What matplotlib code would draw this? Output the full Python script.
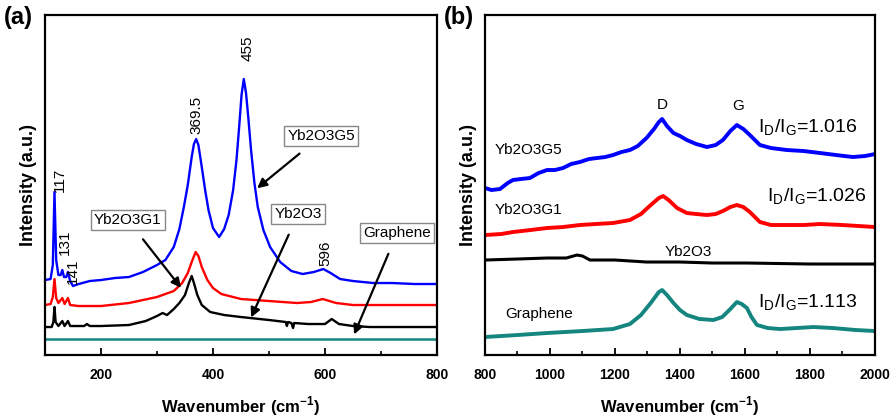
import matplotlib
matplotlib.use("Agg")
import matplotlib.pyplot as plt
from matplotlib.ticker import MultipleLocator

plt.rcParams['font.family'] = ['Liberation Sans', 'DejaVu Sans']
plt.rcParams['mathtext.fontset'] = 'custom'
plt.rcParams['mathtext.rm'] = 'Liberation Sans'
plt.rcParams['mathtext.bf'] = 'Liberation Sans:bold'

# ---- panel (a): low wavenumber spectra (arbitrary intensity, offset) ----
a_g5_x = [100, 110, 114, 117, 120, 124, 128, 131, 134, 138, 141, 145, 150, 160, 180, 200, 225, 250,
          275, 300, 315, 330, 340, 348, 355, 362, 366, 370, 374, 380, 386, 392, 400, 411, 420, 428,
          436, 442, 447, 451, 455, 459, 463, 468, 474, 480, 490, 502, 520, 540, 560, 580, 597, 610,
          627, 650, 686, 720, 760, 800]
a_g5_y = [75, 76, 90, 163, 95, 80, 80, 85, 78, 78, 83, 74, 69, 71, 74, 75, 77, 78,
          83, 90, 95, 108, 126, 148, 170, 198, 211, 216, 210, 188, 165, 145, 127, 118, 126, 140,
          165, 195, 230, 260, 276, 262, 238, 205, 172, 148, 125, 108, 93, 84, 81, 83, 86, 82,
          76, 74, 72, 72, 71, 71]

a_g1_x = [100, 110, 114, 117, 120, 124, 131, 135, 141, 145, 160, 200, 250, 300, 330, 345, 355, 362,
          369, 374, 380, 390, 400, 415, 450, 500, 550, 575, 596, 620, 650, 700, 800]
a_g1_y = [50, 51, 58, 76, 57, 52, 57, 51, 57, 50, 49, 49, 52, 58, 64, 72, 82, 93,
          103, 99, 88, 75, 67, 61, 56, 54, 52, 53, 56, 52, 50, 50, 50]

a_ox_x = [100, 112, 115, 117, 119, 124, 131, 135, 141, 145, 170, 175, 180, 200, 250, 280, 300, 310,
          318, 330, 340, 350, 357, 362, 366, 372, 380, 395, 420, 450, 500, 530, 532, 534, 540, 543,
          545, 570, 600, 612, 625, 650, 680, 800]
a_ox_y = [28, 28, 33, 48, 33, 29, 34, 29, 34, 29, 29, 31, 29, 29, 30, 34, 39, 42,
          40, 46, 52, 60, 72, 79, 72, 60, 50, 43, 40, 38, 35, 33, 29, 33, 32, 27,
          32, 31, 31, 36, 31, 29, 28, 28]

a_gr_x = [100, 200, 300, 400, 500, 600, 700, 800]
a_gr_y = [16, 16, 16, 16, 16, 16, 16, 16]

# ---- panel (b): D and G band region ----
b_g5_x = [800, 820, 846, 870, 886, 910, 938, 965, 991, 1015, 1040, 1065, 1092, 1120, 1145, 1170, 1194,
          1220, 1246, 1270, 1297, 1320, 1335, 1345, 1360, 1380, 1400, 1421, 1450, 1483, 1510, 1532,
          1555, 1575, 1595, 1615, 1646, 1680, 1729, 1780, 1831, 1880, 1932, 1970, 2000]
b_g5_y = [167, 165, 166, 172, 175, 176, 177, 182, 185, 185, 187, 191, 193, 196, 197, 198, 200,
          203, 205, 209, 217, 226, 233, 236, 229, 222, 219, 215, 211, 208, 210, 215,
          224, 230, 226, 220, 210, 207, 205, 204, 202, 200, 198, 199, 201]

b_g1_x = [800, 850, 886, 940, 991, 1040, 1092, 1140, 1194, 1246, 1280, 1310, 1335, 1348, 1365, 1391,
          1421, 1450, 1483, 1510, 1532, 1555, 1575, 1595, 1615, 1646, 1680, 1729, 1780, 1831, 1900,
          1950, 2000]
b_g1_y = [120, 121, 123, 125, 127, 128, 130, 131, 132, 135, 141, 150, 157, 159, 155, 147,
          142, 141, 140, 141, 144, 148, 150, 148, 143, 133, 130, 130, 130, 131, 130,
          129, 128]

b_ox_x = [800, 900, 991, 1050, 1083, 1100, 1123, 1200, 1297, 1400, 1500, 1606, 1800, 2000]
b_ox_y = [95, 96, 97, 97, 100, 99, 95, 95, 93, 93, 92, 92, 91, 91]

b_gr_x = [800, 900, 991, 1100, 1194, 1246, 1280, 1310, 1335, 1345, 1360, 1380, 1400, 1421, 1460,
          1503, 1530, 1555, 1575, 1590, 1606, 1620, 1637, 1670, 1708, 1760, 1811, 1870, 1940, 2000]
b_gr_y = [18, 20, 22, 24, 26, 31, 40, 52, 63, 65, 60, 52, 45, 40, 36,
          35, 38, 46, 53, 51, 47, 38, 30, 27, 26, 27, 28, 27, 25, 24]

blue = '#0000ff'
red = '#ff0000'
teal = '#14857f'

fig = plt.figure(figsize=(8.94, 4.16), dpi=100)
ax1 = fig.add_axes([0.0503, 0.1466, 0.4385, 0.8173])
ax2 = fig.add_axes([0.5425, 0.1466, 0.4362, 0.8173])

ax1.plot(a_gr_x, a_gr_y, color=teal, lw=1.8)
ax1.plot(a_ox_x, a_ox_y, color='black', lw=1.7)
ax1.plot(a_g1_x, a_g1_y, color=red, lw=1.7)
ax1.plot(a_g5_x, a_g5_y, color=blue, lw=1.7)

ax2.plot(b_gr_x, b_gr_y, color=teal, lw=2.8)
ax2.plot(b_ox_x, b_ox_y, color='black', lw=2.2)
ax2.plot(b_g1_x, b_g1_y, color=red, lw=2.8)
ax2.plot(b_g5_x, b_g5_y, color=blue, lw=2.8)

ax1.set_xlim(100, 800)
ax1.set_ylim(0, 340)
ax2.set_xlim(800, 2000)
ax2.set_ylim(0, 340)

ax1.xaxis.set_major_locator(MultipleLocator(200))
ax1.xaxis.set_minor_locator(MultipleLocator(100))
ax2.xaxis.set_major_locator(MultipleLocator(200))
ax2.xaxis.set_minor_locator(MultipleLocator(100))

for ax in (ax1, ax2):
    ax.set_yticks([])
    for s in ax.spines.values():
        s.set_linewidth(1.6)
    ax.tick_params(axis='x', which='major', direction='in', length=5, width=1.3,
                   labelsize=10, pad=9)
    ax.tick_params(axis='x', which='minor', direction='in', length=3, width=1.2)
    for lab in ax.get_xticklabels():
        lab.set_fontweight('bold')
    ax.set_xlabel('Wavenumber (cm$^{\\mathbf{-1}}$)', fontsize=12, fontweight='bold', labelpad=9)
    ax.set_ylabel('Intensity (a.u.)', fontsize=13, fontweight='bold', labelpad=6)

ax1.set_xticklabels(['', '200', '400', '600', '800'], fontweight='bold')

# peak position labels
for x, y, s in [(127, 175, '117'), (136, 113, '131'), (150, 84, '141'),
                (371, 240, '369.5'), (461, 307, '455'), (600, 102, '596')]:
    ax1.text(x, y, s, rotation=90, ha='center', va='center', fontsize=11)

box = dict(boxstyle='square,pad=0.2', fc='white', ec='#888888', lw=1)
arrow = dict(arrowstyle='-|>', color='black', lw=1.6, mutation_scale=14)
ax1.annotate('Yb2O3G5', xy=(475, 165), xytext=(593, 219), ha='center', va='center',
             fontsize=11, bbox=box, arrowprops=dict(arrow, shrinkA=8))
ax1.annotate('Yb2O3G1', xy=(346, 65), xytext=(248, 135), ha='center', va='center',
             fontsize=11, bbox=box, arrowprops=dict(arrow, shrinkA=8))
ax1.annotate('Yb2O3', xy=(466, 35), xytext=(552, 141), ha='center', va='center',
             fontsize=11, bbox=box, arrowprops=dict(arrow, shrinkA=8))
ax1.annotate('Graphene', xy=(650, 18), xytext=(729, 122), ha='center', va='center',
             fontsize=11, bbox=box, arrowprops=dict(arrow, shrinkA=8))

# panel (b) labels
ax2.text(1345, 250, 'D', ha='center', va='center', fontsize=11)
ax2.text(1578, 249, 'G', ha='center', va='center', fontsize=11)
ax2.text(1640, 227, r'I$_\mathrm{D}$/I$_\mathrm{G}$=1.016', ha='left', va='center', fontsize=14)
ax2.text(1668, 158, r'I$_\mathrm{D}$/I$_\mathrm{G}$=1.026', ha='left', va='center', fontsize=14)
ax2.text(1640, 52, r'I$_\mathrm{D}$/I$_\mathrm{G}$=1.113', ha='left', va='center', fontsize=14)
ax2.text(831, 205, 'Yb2O3G5', ha='left', va='center', fontsize=11)
ax2.text(831, 145, 'Yb2O3G1', ha='left', va='center', fontsize=11)
ax2.text(1354, 103, 'Yb2O3', ha='left', va='center', fontsize=11)
ax2.text(862, 41, 'Graphene', ha='left', va='center', fontsize=11)

fig.text(0.004, 0.985, '(a)', fontsize=17, fontweight='bold', ha='left', va='top')
fig.text(0.497, 0.985, '(b)', fontsize=17, fontweight='bold', ha='left', va='top')

fig.savefig('out.png', dpi=100)
